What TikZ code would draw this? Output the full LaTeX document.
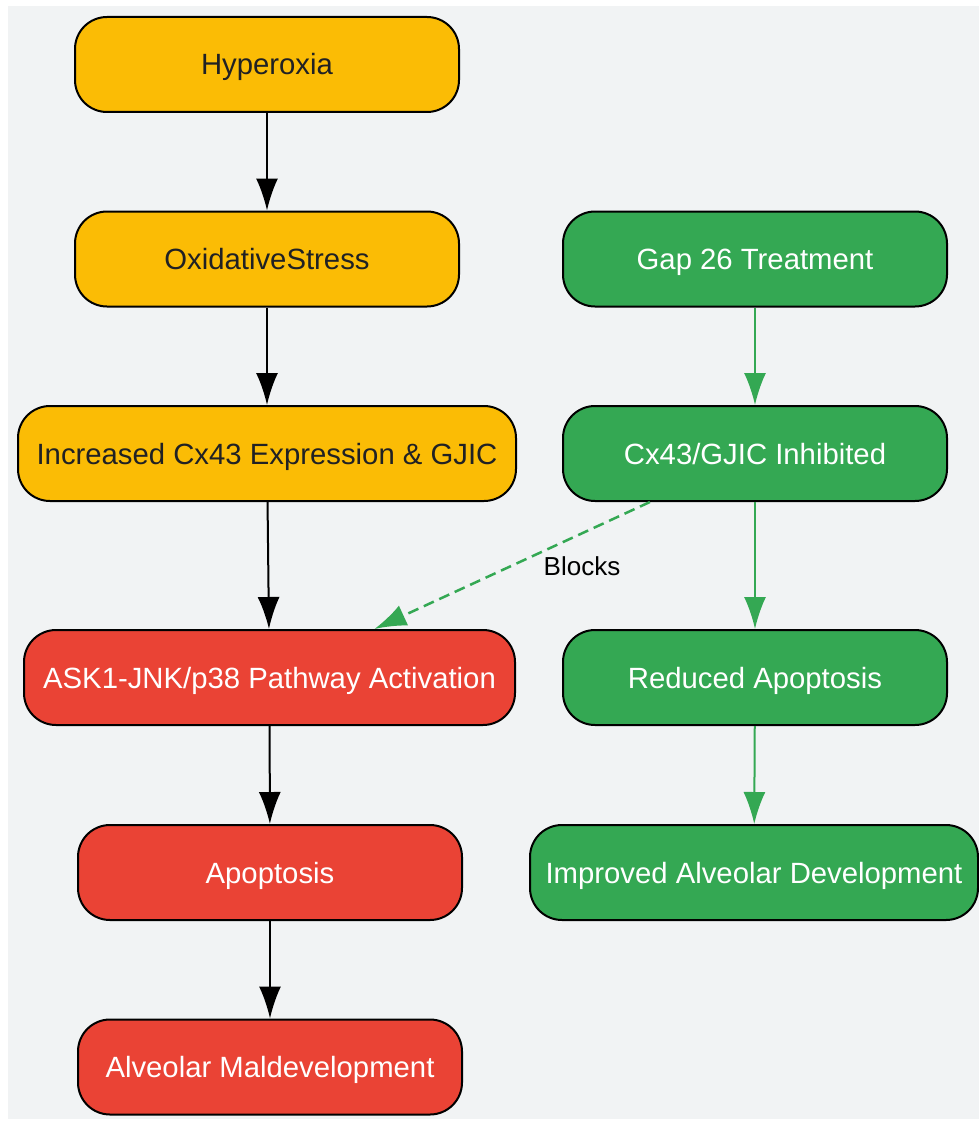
\documentclass[tikz,border=0pt]{standalone}
\usepackage{fontspec}
\setmainfont{Liberation Sans}
\usetikzlibrary{arrows.meta}
\usepackage{xcolor}
\definecolor{mybg}{HTML}{F1F3F4}
\definecolor{myyellow}{HTML}{FBBC05}
\definecolor{myred}{HTML}{EA4335}
\definecolor{mygreen}{HTML}{34A853}
\definecolor{mydark}{HTML}{202124}
\tikzset{
  >=latex,
  box/.style={draw=black,line width=2,rounded corners=32,minimum height=95,inner sep=0,
    text height=21pt,text depth=0pt,font=\fontsize{29.3}{34}\selectfont},
  box stress/.style={box,fill=myyellow,text=mydark},
  box harm/.style={box,fill=myred,text=white},
  box treat/.style={box,fill=mygreen,text=white},
  connect arrow/.style={-{Latex[length=32,width=22]},line width=2,black},
  treat arrow/.style={-{Latex[length=32,width=22]},line width=2,mygreen},
  block arrow/.style={-{Latex[length=32,width=22]},line width=2.5,mygreen,dash pattern=on 11 off 6}
}

\begin{document}
\begin{tikzpicture}[x=1pt,y=-1pt]
    \useasboundingbox (0,0) rectangle (979,1121);
    \fill[mybg] (8,6) rectangle (979,1119);

    \node[box stress,minimum width=384] (hyper) at (267,64.5) {Hyperoxia};
    \node[box stress,minimum width=384] (ox) at (267,259) {OxidativeStress};
    \node[box stress,minimum width=498] (cx) at (267,453.5) {Increased Cx43 Expression \& GJIC};
    \node[box harm,minimum width=491] (ask) at (269.5,677.5) {ASK1-JNK/p38 Pathway Activation};
    \node[box harm,minimum width=384] (apo) at (270,872.5) {Apoptosis};
    \node[box harm,minimum width=384] (mal) at (270,1067) {Alveolar Maldevelopment};

    \node[box treat,minimum width=384] (gap) at (755,259) {Gap 26 Treatment};
    \node[box treat,minimum width=384] (inh) at (755,453.5) {Cx43/GJIC Inhibited};
    \node[box treat,minimum width=384] (red) at (755,677.5) {Reduced Apoptosis};
    \node[box treat,minimum width=448] (imp) at (754,872.5) {Improved Alveolar Development};

    \draw[connect arrow] (hyper) -- (ox);
    \draw[connect arrow] (ox) -- (cx);
    \draw[connect arrow] (cx) -- (ask);
    \draw[connect arrow] (ask) -- (apo);
    \draw[connect arrow] (apo) -- (mal);

    \draw[treat arrow] (gap) -- (inh);
    \draw[treat arrow] (inh) -- (red);
    \draw[treat arrow] (red) -- (imp);

    \draw[block arrow] (inh) -- (ask);
    \node[font=\fontsize{26}{30}\selectfont] (blocks) at (582,566) {Blocks};

\end{tikzpicture}
\end{document}
